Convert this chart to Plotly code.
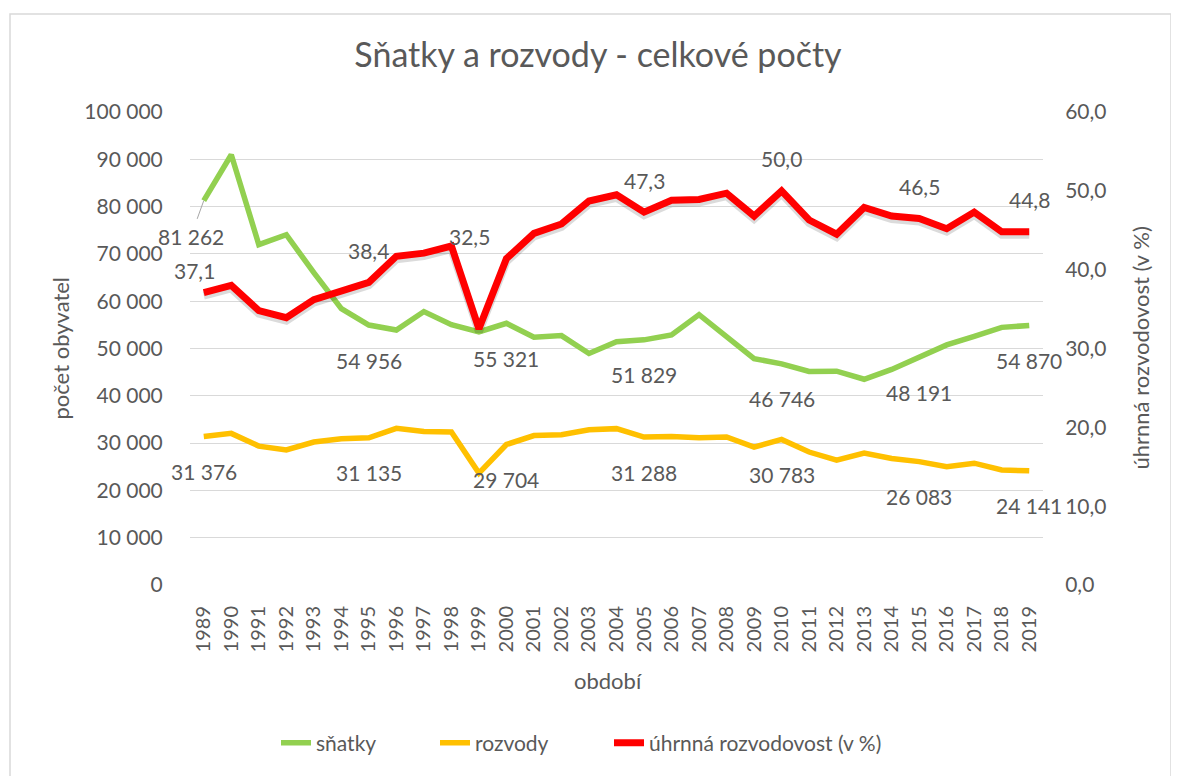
import plotly.graph_objects as go

years = list(range(1989, 2020))
snatky = [81262, 90953, 71973, 74060, 66033, 58440, 54956, 53896, 57804, 55027,
          53523, 55321, 52374, 52732, 48943, 51447, 51829, 52860, 57157, 52457,
          47862, 46746, 45137, 45206, 43499, 45575, 48191, 50768, 52567, 54470, 54870]
rozvody = [31376, 32055, 29366, 28572, 30227, 30939, 31135, 33113, 32465, 32363,
           23657, 29704, 31586, 31758, 32824, 33060, 31288, 31415, 31129, 31300,
           29133, 30783, 28113, 26402, 27895, 26764, 26083, 24996, 25755, 24313, 24141]
rozvodovost = [37.1, 38.0, 34.8, 33.9, 36.2, 37.4, 38.4, 41.7, 42.1, 43.0,
               32.5, 41.4, 44.6, 45.8, 48.7, 49.5, 47.3, 48.8, 48.9, 49.7,
               46.8, 50.0, 46.3, 44.5, 47.9, 46.8, 46.5, 45.2, 47.3, 44.8, 44.8]

label_years_counts = [1989, 1995, 2000, 2005, 2010, 2015, 2019]
label_years_rate = [1989, 1995, 1999, 2005, 2010, 2015, 2019]

TXT = "#595959"
FONT = "Lato"
OFF = 8  # page body margin
W, H = 1179 - OFF, 776 - OFF
# plot area in screenshot pixels, converted to figure pixels
L, R, T, B = 190 - OFF, 1043 - OFF, 112 - OFF, 585 - OFF
pw, ph = R - L, B - T


def px_x(sx):
    return (sx - OFF - L) / pw


def px_y(sy):
    return (B - (sy - OFF)) / ph


def fmt_int(v):
    return f"{v:,}".replace(",", " ")


def fmt_dec(v):
    return f"{v:.1f}".replace(".", ",")


fig = go.Figure()
fig.add_trace(go.Scatter(x=years, y=snatky, name="sňatky", mode="lines", legend="legend",
                         line=dict(color="#92D050", width=5.5), yaxis="y"))
fig.add_trace(go.Scatter(x=years, y=rozvody, name="rozvody", mode="lines", legend="legend2",
                         line=dict(color="#FFC000", width=5.5), yaxis="y"))
# soft shadow of the rate line (same data on a slightly shifted hidden axis)
fig.add_trace(go.Scatter(x=years, y=rozvodovost, mode="lines", showlegend=False,
                         hoverinfo="skip",
                         line=dict(color="rgba(0,0,0,0.14)", width=8), yaxis="y2"))
fig.add_trace(go.Scatter(x=years, y=rozvodovost, name="úhrnná rozvodovost (v %)", mode="lines",
                         legend="legend3",
                         line=dict(color="#FF0000", width=7), yaxis="y3"))

ann = []
lf = dict(family=FONT, size=21, color=TXT)
for yr in label_years_counts:
    i = years.index(yr)
    if yr == 1989:
        ann.append(dict(x=yr, y=snatky[i], xref="x", yref="y", text=fmt_int(snatky[i]),
                        showarrow=True, arrowhead=0, arrowwidth=1, arrowcolor="#A6A6A6",
                        ax=-13, ay=36, startstandoff=4, font=lf))
    else:
        ann.append(dict(x=yr, y=snatky[i], xref="x", yref="y", text=fmt_int(snatky[i]),
                        showarrow=False, yshift=-35, font=lf))
    ann.append(dict(x=yr, y=rozvody[i], xref="x", yref="y", text=fmt_int(rozvody[i]),
                    showarrow=False, yshift=-35, font=lf))
for yr in label_years_rate:
    i = years.index(yr)
    ys, xs = 32, 0
    if yr == 1989:
        ys, xs = 22, -9
    if yr == 1999:
        ys, xs = 92, -9
    ann.append(dict(x=yr, y=rozvodovost[i], xref="x", yref="y3", text=fmt_dec(rozvodovost[i]),
                    showarrow=False, yshift=ys, xshift=xs, font=lf))

tf = dict(family=FONT, size=22, color=TXT)
ann.append(dict(x=px_x(60), y=0.5, xref="paper", yref="paper", text="počet obyvatel",
                textangle=-90, showarrow=False, xanchor="center", yanchor="middle", font=tf))
ann.append(dict(x=px_x(1140), y=0.5, xref="paper", yref="paper", text="úhrnná rozvodovost (v %)",
                textangle=-90, showarrow=False, xanchor="center", yanchor="middle", font=tf))
ann.append(dict(x=px_x(608), y=px_y(680), xref="paper", yref="paper", text="období",
                showarrow=False, xanchor="center", yanchor="middle", font=tf))

shapes = [dict(type="rect", xref="paper", yref="paper",
               x0=px_x(10), x1=px_x(1171), y0=px_y(790), y1=px_y(14),
               line=dict(color="#D9D9D9", width=1.5), fillcolor="rgba(0,0,0,0)", layer="below")]

shadow_d = 3 / (ph / 60)

legend_font = dict(family=FONT, size=21, color=TXT)


def legend_at(sx):
    return dict(orientation="h", x=px_x(sx), xanchor="left", y=px_y(743), yanchor="middle",
                font=legend_font, bgcolor="rgba(0,0,0,0)")


fig.update_layout(
    width=W, height=H,
    margin=dict(l=L, r=W - R, t=T, b=H - B),
    paper_bgcolor="white", plot_bgcolor="white",
    separators=", ",
    font=dict(family=FONT, size=21, color=TXT),
    title=dict(text="Sňatky a rozvody - celkové počty", x=(598 - OFF) / W, xanchor="center",
               y=1 - (55 - OFF) / H, yanchor="middle", yref="container",
               font=dict(family=FONT, size=34, color=TXT)),
    xaxis=dict(range=[1988.5, 2019.5], tickmode="array", tickvals=years,
               ticktext=[str(y) for y in years], tickangle=-90, showgrid=False,
               zeroline=False, showline=False, ticks="outside", ticklen=12,
               tickcolor="rgba(0,0,0,0)", tickfont=dict(family=FONT, size=20, color=TXT)),
    yaxis=dict(range=[0, 100000], dtick=10000, tickformat=",d", showgrid=True,
               gridcolor="#D9D9D9", gridwidth=1, zeroline=False, showline=False,
               ticks="outside", ticklen=22, tickcolor="rgba(0,0,0,0)",
               tickfont=dict(family=FONT, size=21, color=TXT)),
    yaxis2=dict(range=[shadow_d, 60 + shadow_d], overlaying="y", visible=False),
    yaxis3=dict(range=[0, 60], dtick=10, tickformat=".1f", overlaying="y", side="right",
                showgrid=False, zeroline=False, showline=False, ticks="outside", ticklen=17,
                tickcolor="rgba(0,0,0,0)", tickfont=dict(family=FONT, size=21, color=TXT)),
    legend=legend_at(284 - 8),
    legend2=legend_at(443 - 8),
    legend3=legend_at(617 - 8),
    annotations=ann,
    shapes=shapes,
    showlegend=True,
)

fig.write_html("out.html")
